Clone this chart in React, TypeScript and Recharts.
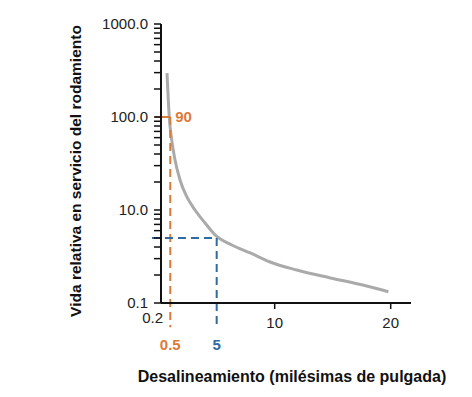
import { LineChart, Line, XAxis, YAxis, ReferenceLine, Label } from 'recharts';

// curve
const MISALIGN = [0.72, 0.92, 1.12, 1.41, 1.84, 2.42, 3.13, 4.0, 4.86, 6.3, 7.9, 9.6, 11.9, 14.8, 17.6, 19.8];
const LIFE = [296, 97, 57, 34.5, 21, 13.9, 10, 7.25, 5.4, 4.2, 3.45, 2.76, 2.26, 1.86, 1.56, 1.32];

const X_TICKS = [0.2, 10, 20];
const Y_MAJOR = [1, 10, 100, 1000];
const Y_MAJOR_LABELS = ['0.1', '10.0', '100.0', '1000.0'];
const Y_MINOR_STEPS = [2, 3, 4, 5, 6, 7, 8, 9];

const ORANGE_X = 1.0;
const ORANGE_Y = 100;
const BLUE_X = 5;
const BLUE_Y = 5;

const ORANGE = '#dc7a3a';
const BLUE = '#2f6aa3';
const AXIS = '#111111';
const FONT = '"Liberation Sans", Arial, sans-serif';

const data = MISALIGN.map((x, i) => ({ x, life: LIFE[i] }));

const yTicks: number[] = [];
[1, 10, 100].forEach((d) => {
  yTicks.push(d);
  Y_MINOR_STEPS.forEach((s) => yTicks.push(d * s));
});
yTicks.push(1000);

const formatY = (v: number) => {
  const idx = Y_MAJOR.indexOf(v);
  return idx >= 0 ? Y_MAJOR_LABELS[idx] : '';
};

function XTick(props: any) {
  const { x, y, payload } = props;
  const axisY = y - 10;
  if (payload.value === X_TICKS[0]) {
    return (
      <text x={x + 2} y={axisY + 20} textAnchor="end" fontSize={15} fill="#222" fontFamily={FONT}>
        {payload.value}
      </text>
    );
  }
  return (
    <g>
      <line x1={x} x2={x} y1={axisY} y2={axisY + 6} stroke={AXIS} strokeWidth={1.5} />
      <text x={x} y={axisY + 25} textAnchor="middle" fontSize={15} fill="#222" fontFamily={FONT}>
        {payload.value}
      </text>
    </g>
  );
}

const XTitle = () => (
  <text x={292} y={382} textAnchor="middle" fontSize={16} fontWeight="bold" fill="#111" fontFamily={FONT}>
    Desalineamiento (milésimas de pulgada)
  </text>
);

const YTitle = () => (
  <text
    transform="translate(81,171) rotate(-90)"
    textAnchor="middle"
    fontSize={15.5}
    fontWeight="bold"
    fill="#111"
    fontFamily={FONT}
  >
    Vida relativa en servicio del rodamiento
  </text>
);

export default function App() {
  const labelStyle = { fontSize: 15, fontWeight: 'bold', fontFamily: FONT };
  return (
    <div style={{ position: 'absolute', left: 0, top: 0, background: '#fff' }}>
      <LineChart width={472} height={397} data={data} margin={{ top: 24, right: 61, bottom: 64, left: 101 }}>
        <XAxis
          type="number"
          dataKey="x"
          domain={[0.2, 21.75]}
          ticks={X_TICKS}
          interval={0}
          allowDataOverflow
          height={30}
          tickSize={6}
          tickMargin={4}
          tickLine={false}
          axisLine={{ stroke: AXIS, strokeWidth: 2 }}
          tick={<XTick />}
        >
          <Label content={XTitle} />
        </XAxis>
        <YAxis
          type="number"
          scale="log"
          domain={[1, 1000]}
          ticks={yTicks}
          interval={0}
          allowDataOverflow
          width={60}
          tickSize={7}
          tickMargin={6}
          tickFormatter={formatY}
          tick={{ fontSize: 15, fill: '#222', fontFamily: FONT }}
          tickLine={{ stroke: AXIS, strokeWidth: 1.5 }}
          axisLine={{ stroke: AXIS, strokeWidth: 2 }}
        >
          <Label content={YTitle} />
        </YAxis>
        <Line
          type="monotone"
          dataKey="life"
          stroke="#aaaaaa"
          strokeWidth={3}
          dot={false}
          isAnimationActive={false}
        />
        <ReferenceLine
          segment={[{ x: -0.32, y: ORANGE_Y }, { x: ORANGE_X, y: ORANGE_Y }]}
          stroke={ORANGE}
          strokeWidth={2}
          ifOverflow="visible"
          label={{ value: '90', position: 'right', offset: 5, fill: ORANGE, ...labelStyle }}
        />
        <ReferenceLine
          segment={[{ x: ORANGE_X, y: ORANGE_Y }, { x: ORANGE_X, y: 0.55 }]}
          stroke={ORANGE}
          strokeWidth={2}
          strokeDasharray="8 5"
          ifOverflow="visible"
          label={{ value: '0.5', position: 'bottom', offset: 12, fill: ORANGE, ...labelStyle }}
        />
        <ReferenceLine
          segment={[{ x: -0.58, y: BLUE_Y }, { x: BLUE_X, y: BLUE_Y }]}
          stroke={BLUE}
          strokeWidth={2}
          strokeDasharray="8 5"
          ifOverflow="visible"
        />
        <ReferenceLine
          segment={[{ x: BLUE_X, y: BLUE_Y }, { x: BLUE_X, y: 0.55 }]}
          stroke={BLUE}
          strokeWidth={2}
          strokeDasharray="8 5"
          ifOverflow="visible"
          label={{ value: '5', position: 'bottom', offset: 12, fill: BLUE, ...labelStyle }}
        />
      </LineChart>
    </div>
  );
}
